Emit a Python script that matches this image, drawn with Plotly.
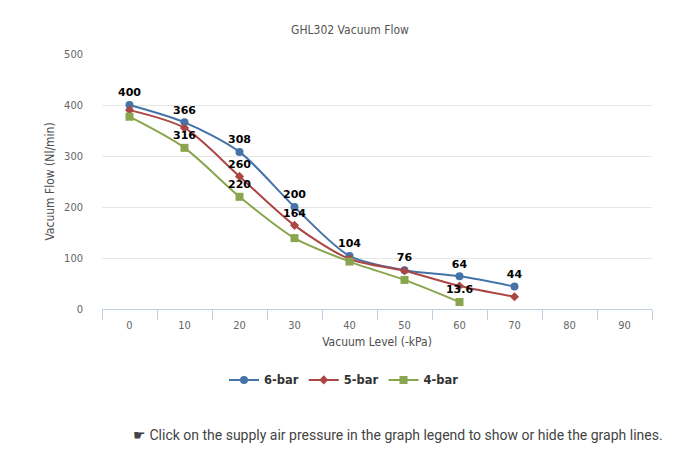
import plotly.graph_objects as go

vacuum_levels = [0, 10, 20, 30, 40, 50, 60, 70]
x_categories = [0, 10, 20, 30, 40, 50, 60, 70, 80, 90]

flow_6bar = [400, 366, 308, 200, 104, 76, 64, 44]
flow_5bar = [390, 355, 260, 164, 98, 75, 45, 24]
flow_4bar = [377, 316, 220, 139, 93, 57, 13.6]

labels_6bar = ["400", "366", "308", "200", "104", "76", "64", "44"]
labels_5bar = ["", "", "260", "164", "", "", "", ""]
labels_4bar = ["", "316", "220", "", "", "", "13.6"]

series = [
    ("6-bar", flow_6bar, labels_6bar, "#4572A7", "circle", 8),
    ("5-bar", flow_5bar, labels_5bar, "#AA4643", "diamond", 7),
    ("4-bar", flow_4bar, labels_4bar, "#89A54E", "square", 8),
]

fig = go.Figure()
for name, vals, labs, color, sym, size in series:
    fig.add_trace(go.Scatter(
        x=vacuum_levels[:len(vals)], y=vals, name=name,
        mode="lines+markers+text",
        line=dict(color=color, width=2, shape="spline", smoothing=0.8),
        marker=dict(color=color, symbol=sym, size=size),
        text=labs, textposition="top center",
        textfont=dict(family="DejaVu Sans", size=11, color="#000000", weight="bold"),
        hoverinfo="x+y+name",
    ))

fig.update_layout(
    width=684, height=444,
    margin=dict(l=94, r=40, t=46, b=143),
    paper_bgcolor="white", plot_bgcolor="white",
    title=dict(text="GHL302 Vacuum Flow", x=0.5, xanchor="center", y=1 - 22 / 444, yanchor="middle",
               font=dict(family="DejaVu Sans Condensed, DejaVu Sans", size=12, color="#555555")),
    showlegend=True,
    legend=dict(orientation="h", x=0.44, xanchor="center", y=-0.278, yanchor="middle",
                font=dict(family="DejaVu Sans", size=11.5, color="#333333", weight="bold"),
                itemclick="toggle"),
    xaxis=dict(
        range=[-5, 95], tickvals=x_categories, ticktext=[str(v) for v in x_categories],
        ticks="", showgrid=False, zeroline=False,
        showline=True, linecolor="#C0D0E0", linewidth=1,
        tickfont=dict(family="DejaVu Sans Condensed, DejaVu Sans", size=11, color="#666666"),
        ticklabelstandoff=6,
        minor=dict(tickvals=[-5, 5, 15, 25, 35, 45, 55, 65, 75, 85, 95], ticks="outside",
                   ticklen=10, tickcolor="#C0D0E0", tickwidth=1, showgrid=False),
        title=dict(text="Vacuum Level (-kPa)", standoff=6,
                   font=dict(family="DejaVu Sans Condensed, DejaVu Sans", size=12, color="#4D4D4D")),
        fixedrange=True,
    ),
    yaxis=dict(
        range=[0, 500], tickvals=[0, 100, 200, 300, 400, 500], showgrid=True,
        gridcolor="#E6E6E6", gridwidth=1, zeroline=False, showline=False, ticks="",
        tickfont=dict(family="DejaVu Sans Condensed, DejaVu Sans", size=11, color="#666666"),
        ticklabelstandoff=18,
        title=dict(text="Vacuum Flow (Nl/min)", standoff=6,
                   font=dict(family="DejaVu Sans Condensed, DejaVu Sans", size=12, color="#4D4D4D")),
        fixedrange=True,
    ),
    annotations=[dict(
        text="☛ Click on the supply air pressure in the graph legend to show or hide the graph lines.",
        xref="paper", yref="paper", x=0.538, y=-0.494, xanchor="center", yanchor="middle",
        showarrow=False, font=dict(family="Roboto", size=14, color="#444444"),
    )],
)

fig.write_html("out.html")
